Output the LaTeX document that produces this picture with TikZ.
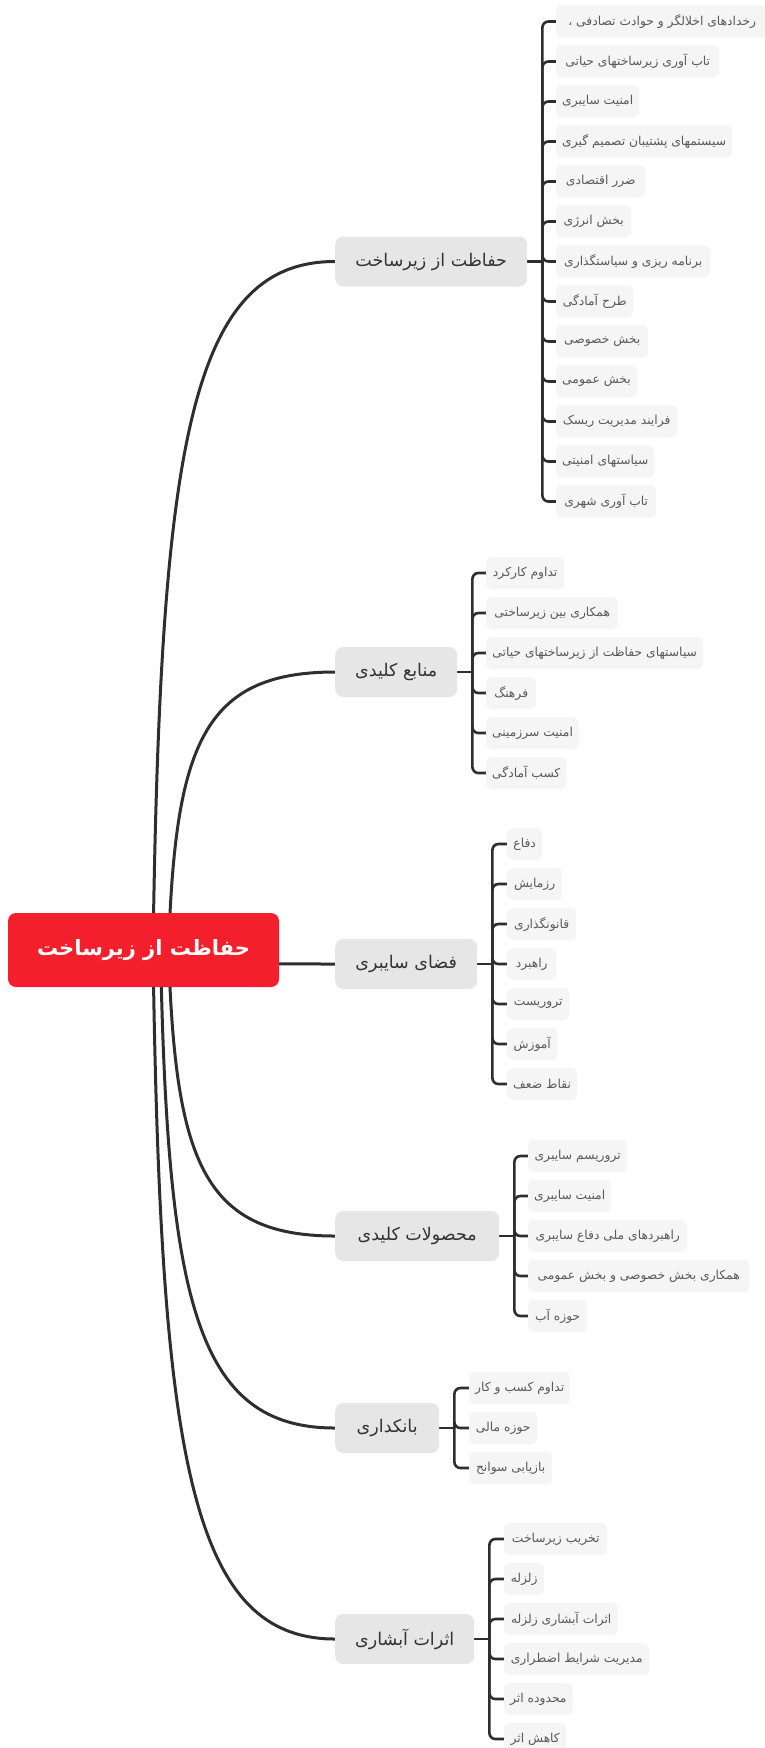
\documentclass[tikz,border=0pt]{standalone}
\usepackage{fontspec}
\newfontfamily\fa[Script=Arabic]{DejaVu Sans}
\TeXXeTstate=1
\usetikzlibrary{calc}
\definecolor{rootred}{HTML}{F41F2C}
\definecolor{brgray}{HTML}{E6E6E6}
\definecolor{lfgray}{HTML}{F5F5F5}
\definecolor{brtext}{HTML}{333333}
\definecolor{lftext}{HTML}{5A5A5A}
\definecolor{linec}{HTML}{2E2E2E}
\pgfdeclarelayer{bg}
\pgfsetlayers{bg,main}
\tikzset{
  rootbox/.style={fill=rootred, rounded corners=8pt, text=white, minimum width=271, minimum height=74, font=\fa\bfseries\fontsize{21}{26}\selectfont, inner sep=0pt},
  brbox/.style={fill=brgray, rounded corners=8pt, text=brtext, minimum width=#1, minimum height=50, font=\fa\fontsize{17.5}{21}\selectfont, inner sep=0pt, anchor=west},
  lfbox/.style={fill=lfgray, rounded corners=6pt, text=lftext, minimum width=#1, minimum height=32, font=\fa\fontsize{12.3}{15}\selectfont, inner xsep=6pt, inner ysep=0pt, anchor=west},
  rootline/.style={draw=linec, line width=3pt},
  stubline/.style={draw=linec, line width=2.6pt, rounded corners=6pt}
}
\begin{document}
\begin{tikzpicture}[x=1pt,y=-1pt]
\useasboundingbox (0,0) rectangle (764,1748);
% root
\node[rootbox] (root) at (143.5,950) {\beginR حفاظت از زیرساخت\endR};
% branches
\node[brbox=192] (b1) at (335,261.5) {\beginR حفاظت از زیرساخت\endR};
\node[brbox=122] (b2) at (335,672) {\beginR منابع کلیدی\endR};
\node[brbox=142] (b3) at (335,964) {\beginR فضای سایبری\endR};
\node[brbox=164] (b4) at (335,1236) {\beginR محصولات کلیدی\endR};
\node[brbox=104] (b5) at (335,1428) {\beginR بانکداری\endR};
\node[brbox=139] (b6) at (335,1639) {\beginR اثرات آبشاری\endR};
% leaves branch 1
\node[lfbox=212] (a1) at (556,21.5) {\beginR رخدادهای اخلالگر و حوادث تصادفی ،\endR};
\node[lfbox=163] (a2) at (556,61.5) {\beginR تاب آوری زیرساختهای حیاتی\endR};
\node[lfbox=83] (a3) at (556,101.5) {\beginR امنیت سایبری\endR};
\node[lfbox=171] (a4) at (556,141.5) {\beginR سیستمهای پشتیبان تصمیم گیری\endR};
\node[lfbox=89] (a5) at (556,181.5) {\beginR ضرر اقتصادی\endR};
\node[lfbox=75] (a6) at (556,221.5) {\beginR بخش انرژی\endR};
\node[lfbox=154] (a7) at (556,261.5) {\beginR برنامه ریزی و سیاستگذاری\endR};
\node[lfbox=77] (a8) at (556,301.5) {\beginR طرح آمادگی\endR};
\node[lfbox=92] (a9) at (556,341.5) {\beginR بخش خصوصی\endR};
\node[lfbox=79] (a10) at (556,381.5) {\beginR بخش عمومی\endR};
\node[lfbox=121] (a11) at (556,421.5) {\beginR فرایند مدیریت ریسک\endR};
\node[lfbox=94] (a12) at (556,461.5) {\beginR سیاستهای امنیتی\endR};
\node[lfbox=100] (a13) at (556,501.5) {\beginR تاب آوری شهری\endR};
% leaves branch 2
\node[lfbox=78] (c1) at (486,573) {\beginR تداوم کارکرد\endR};
\node[lfbox=132] (c2) at (486,613) {\beginR همکاری بین زیرساختی\endR};
\node[lfbox=217] (c3) at (486,653) {\beginR سیاستهای حفاظت از زیرساختهای حیاتی\endR};
\node[lfbox=50] (c4) at (486,693) {\beginR فرهنگ\endR};
\node[lfbox=92] (c5) at (486,733) {\beginR امنیت سرزمینی\endR};
\node[lfbox=77] (c6) at (486,773) {\beginR کسب آمادگی\endR};
% leaves branch 3
\node[lfbox=35] (d1) at (507,844) {\beginR دفاع\endR};
\node[lfbox=55] (d2) at (507,884) {\beginR رزمایش\endR};
\node[lfbox=69] (d3) at (507,924) {\beginR قانونگذاری\endR};
\node[lfbox=49] (d4) at (507,964) {\beginR راهبرد\endR};
\node[lfbox=62] (d5) at (507,1004) {\beginR تروریست\endR};
\node[lfbox=50] (d6) at (507,1044) {\beginR آموزش\endR};
\node[lfbox=69] (d7) at (507,1084) {\beginR نقاط ضعف\endR};
% leaves branch 4
\node[lfbox=99] (e1) at (528,1156) {\beginR تروریسم سایبری\endR};
\node[lfbox=83] (e2) at (528,1196) {\beginR امنیت سایبری\endR};
\node[lfbox=159] (e3) at (528,1236) {\beginR راهبردهای ملی دفاع سایبری\endR};
\node[lfbox=221] (e4) at (528,1276) {\beginR همکاری بخش خصوصی و بخش عمومی\endR};
\node[lfbox=59] (e5) at (528,1316) {\beginR حوزه آب\endR};
% leaves branch 5
\node[lfbox=100] (f1) at (469,1388) {\beginR تداوم کسب و کار\endR};
\node[lfbox=68] (f2) at (469,1428) {\beginR حوزه مالی\endR};
\node[lfbox=83] (f3) at (469,1468) {\beginR بازیابی سوانح\endR};
% leaves branch 6
\node[lfbox=103] (g1) at (504,1539) {\beginR تخریب زیرساخت\endR};
\node[lfbox=40] (g2) at (504,1579) {\beginR زلزله\endR};
\node[lfbox=114] (g3) at (504,1619) {\beginR اثرات آبشاری زلزله\endR};
\node[lfbox=145] (g4) at (504,1659) {\beginR مدیریت شرایط اضطراری\endR};
\node[lfbox=68] (g5) at (504,1699) {\beginR محدوده اثر\endR};
\node[lfbox=62] (g6) at (504,1739) {\beginR کاهش اثر\endR};
\begin{pgfonlayer}{bg}
% root to branches
\foreach \b/\yb/\dx in {b1/261.5/9.5,b2/672/25,b3/964/9.5,b4/1236/25,b5/1428/17,b6/1639/9.5}{
  \pgfmathsetmacro\xs{143.5+\dx}
  \pgfmathsetmacro\cxa{\xs+0.04*(335-\xs)}
  \pgfmathsetmacro\cxb{\xs+0.2*(335-\xs)}
  \pgfmathsetmacro\cya{\yb+0.27*(950-\yb)}
  \draw[rootline] ($(root.center)+(\dx,0)$) .. controls (\cxa,\cya) and (\cxb,\yb) .. (\b.west);
}
% branch stubs to spines
\foreach \b/\ls in {b1/{a1,a2,a3,a4,a5,a6,a7,a8,a9,a10,a11,a12,a13},
                    b2/{c1,c2,c3,c4,c5,c6},
                    b3/{d1,d2,d3,d4,d5,d6,d7},
                    b4/{e1,e2,e3,e4,e5},
                    b5/{f1,f2,f3},
                    b6/{g1,g2,g3,g4,g5,g6}}{
  \draw[stubline] (\b.east) -- ++(15,0);
  \foreach \l in \ls {
    \draw[stubline] ($(\b.east)+(15,0)$) |- (\l.west);
  }
}
\end{pgfonlayer}
\end{tikzpicture}
\end{document}
